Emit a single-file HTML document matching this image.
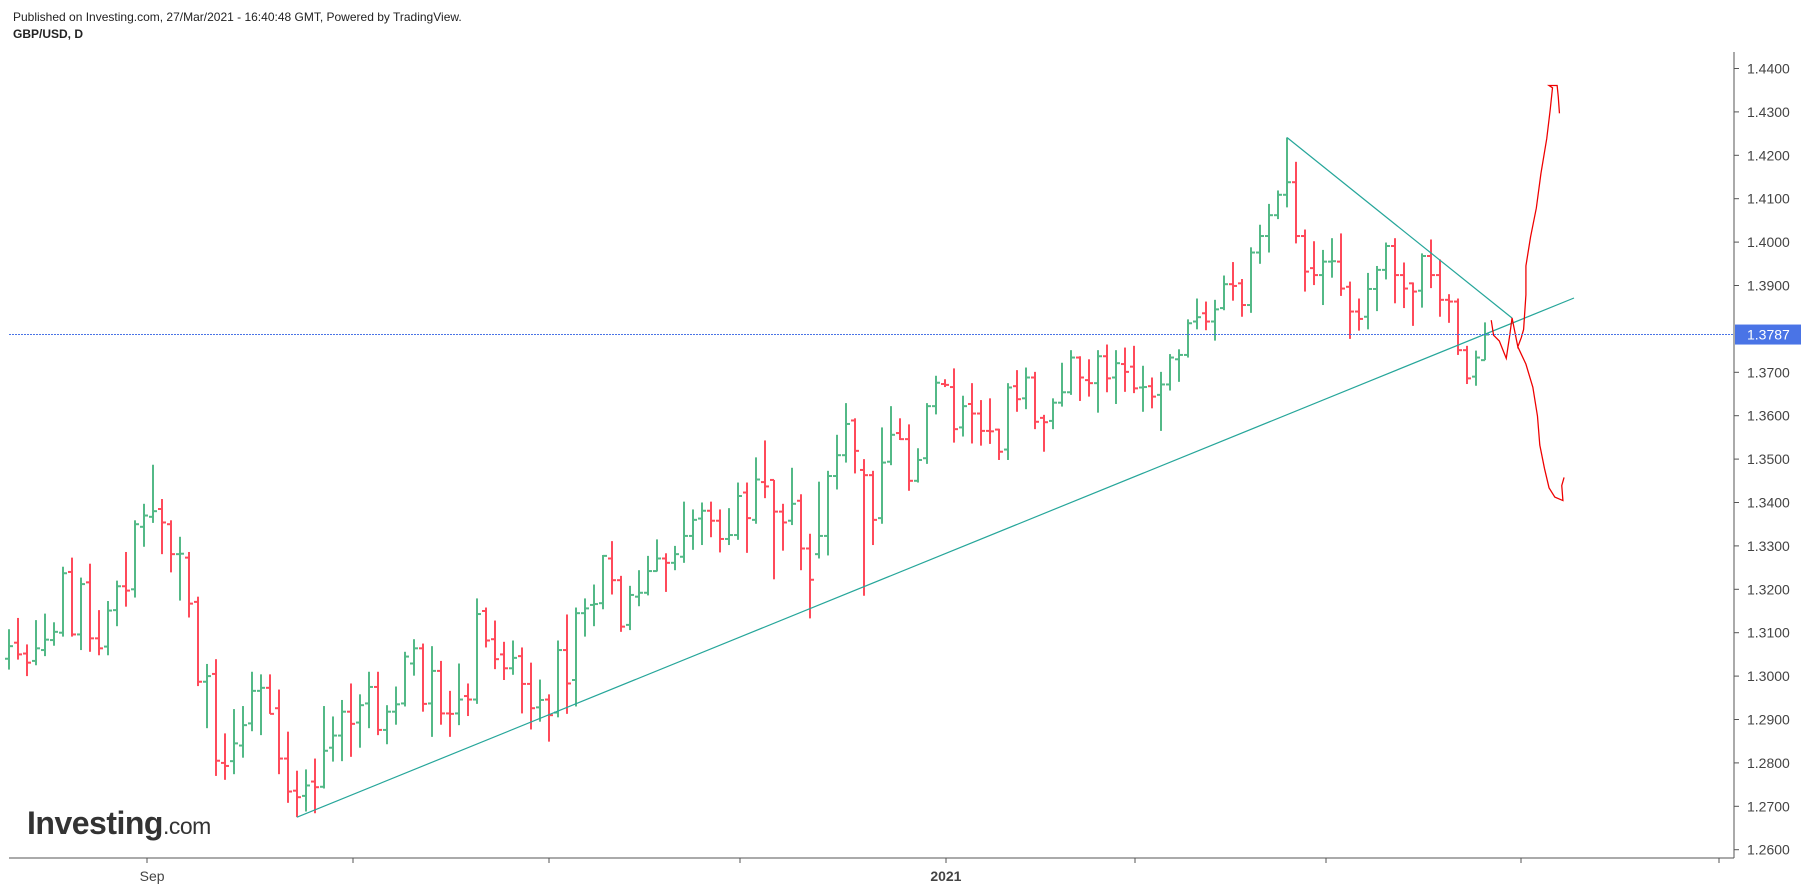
<!DOCTYPE html>
<html><head><meta charset="utf-8"><style>
html,body{margin:0;padding:0;background:#fff;width:1813px;height:892px;overflow:hidden;font-family:"Liberation Sans",Arial,sans-serif}
svg{position:absolute;left:0;top:0}
</style></head><body>
<svg id="chart" width="1813" height="892">
<text x="13" y="21" font-size="12" fill="#222">Published on Investing.com, 27/Mar/2021 - 16:40:48 GMT, Powered by TradingView.</text>
<text x="13" y="38" font-size="12" font-weight="bold" fill="#222">GBP/USD, D</text>
<g id="grid"></g>
<g id="bars"></g>
<g id="lines"></g>
<g id="axes"></g>
<text x="27" y="834" font-size="32" font-weight="bold" fill="#333" letter-spacing="-0.5">Investing<tspan font-size="23" font-weight="normal">.com</tspan></text>
</svg>
<script>
const opens=[1.3040,1.3077,1.3052,1.3035,1.3060,1.3083,1.3100,1.3240,1.3096,1.3216,1.3087,1.3068,1.3152,1.3207,1.3200,1.3344,1.3367,1.3385,1.3350,1.3281,1.3273,1.3171,1.2987,1.3005,1.2800,1.2804,1.2840,1.2891,1.2966,1.2973,1.2926,1.2810,1.2736,1.2724,1.2757,1.2745,1.2835,1.2863,1.2918,1.2893,1.2937,1.2975,1.2876,1.2918,1.2937,1.3029,1.3064,1.2937,1.3012,1.2914,1.2914,1.2954,1.2946,1.3150,1.3085,1.3050,1.3018,1.3046,1.2982,1.2928,1.2946,1.2916,1.3060,1.2991,1.3145,1.3164,1.3168,1.3271,1.3221,1.3118,1.3183,1.3192,1.3242,1.3271,1.3261,1.3275,1.3323,1.3363,1.3381,1.3358,1.3316,1.3325,1.3423,1.3360,1.3447,1.3452,1.3379,1.3358,1.3404,1.3294,1.3281,1.3323,1.3461,1.3509,1.3589,1.3475,1.3463,1.3364,1.3494,1.3560,1.3546,1.3450,1.3502,1.3622,1.3673,1.3666,1.3573,1.3627,1.3605,1.3565,1.3568,1.3522,1.3668,1.3640,1.3688,1.3595,1.3588,1.3630,1.3654,1.3734,1.3682,1.3675,1.3737,1.3688,1.3719,1.3713,1.3665,1.3668,1.3648,1.3672,1.3730,1.3740,1.3817,1.3836,1.3817,1.3848,1.3903,1.3905,1.3855,1.3976,1.4014,1.4062,1.4109,1.4138,1.4014,1.3940,1.3924,1.3955,1.3955,1.3897,1.3840,1.3828,1.3892,1.3936,1.3991,1.3924,1.3905,1.3888,1.3968,1.3924,1.3867,1.3863,1.3751,1.3690,1.3728];
const highs=[1.3108,1.3134,1.3073,1.3129,1.3144,1.3124,1.3252,1.3273,1.3227,1.3259,1.3152,1.3173,1.3220,1.3286,1.3359,1.3397,1.3487,1.3408,1.3359,1.3321,1.3286,1.3183,1.3028,1.3039,1.2868,1.2924,1.2931,1.3010,1.3004,1.3004,1.2969,1.2872,1.2782,1.2785,1.2810,1.2931,1.2907,1.2945,1.2983,1.2958,1.3010,1.3010,1.2933,1.2976,1.3056,1.3085,1.3075,1.3069,1.3035,1.2966,1.3029,1.2983,1.3179,1.3158,1.3128,1.3079,1.3082,1.3066,1.3031,1.2992,1.2958,1.3082,1.3142,1.3158,1.3179,1.3211,1.3279,1.3311,1.3231,1.3208,1.3244,1.3277,1.3315,1.3283,1.3300,1.3402,1.3384,1.3400,1.3402,1.3384,1.3387,1.3446,1.3446,1.3504,1.3543,1.3452,1.3397,1.3480,1.3419,1.3328,1.3448,1.3473,1.3556,1.3629,1.3594,1.3500,1.3473,1.3573,1.3622,1.3594,1.3580,1.3525,1.3629,1.3692,1.3684,1.3709,1.3646,1.3675,1.3636,1.3640,1.3570,1.3675,1.3705,1.3711,1.3701,1.3602,1.3640,1.3722,1.3751,1.3737,1.3730,1.3751,1.3764,1.3751,1.3757,1.3761,1.3715,1.3688,1.3701,1.3742,1.3753,1.3822,1.3870,1.3863,1.3867,1.3923,1.3954,1.3915,1.3988,1.4040,1.4088,1.4119,1.4241,1.4185,1.4029,1.4002,1.3982,1.4009,1.4020,1.3909,1.3870,1.3929,1.3945,1.3999,1.4009,1.3953,1.3907,1.3974,1.4006,1.3960,1.3880,1.3870,1.3761,1.3750,1.3815];
const lows=[1.3015,1.3038,1.3000,1.3025,1.3046,1.3070,1.3091,1.3091,1.3060,1.3056,1.3048,1.3048,1.3115,1.3160,1.3181,1.3298,1.3353,1.3281,1.3239,1.3174,1.3135,1.2977,1.2880,1.2770,1.2761,1.2774,1.2812,1.2873,1.2864,1.2913,1.2774,1.2708,1.2675,1.2688,1.2684,1.2741,1.2803,1.2804,1.2814,1.2835,1.2880,1.2864,1.2843,1.2888,1.2930,1.3001,1.2918,1.2860,1.2888,1.2860,1.2887,1.2908,1.2936,1.3066,1.3016,1.2991,1.3003,1.2914,1.2877,1.2895,1.2849,1.2905,1.2913,1.2930,1.3091,1.3115,1.3154,1.3188,1.3102,1.3106,1.3161,1.3186,1.3241,1.3194,1.3244,1.3261,1.3291,1.3302,1.3320,1.3285,1.3302,1.3314,1.3284,1.3351,1.3410,1.3223,1.3289,1.3348,1.3244,1.3133,1.3271,1.3278,1.3430,1.3492,1.3467,1.3185,1.3302,1.3351,1.3486,1.3544,1.3427,1.3446,1.3489,1.3603,1.3666,1.3538,1.3552,1.3536,1.3531,1.3535,1.3498,1.3498,1.3609,1.3615,1.3569,1.3517,1.3569,1.3621,1.3648,1.3634,1.3644,1.3607,1.3654,1.3627,1.3655,1.3652,1.3609,1.3617,1.3565,1.3658,1.3678,1.3734,1.3799,1.3797,1.3773,1.3843,1.3865,1.3828,1.3837,1.3950,1.3976,1.4053,1.4080,1.3997,1.3886,1.3901,1.3855,1.3918,1.3876,1.3777,1.3796,1.3799,1.3841,1.3914,1.3859,1.3848,1.3807,1.3849,1.3894,1.3828,1.3814,1.3740,1.3673,1.3669,1.3728];
const closes=[1.3069,1.3050,1.3031,1.3064,1.3084,1.3102,1.3237,1.3096,1.3212,1.3087,1.3064,1.3151,1.3207,1.3197,1.3350,1.3370,1.3380,1.3354,1.3281,1.3282,1.3167,1.2987,1.3000,1.2805,1.2793,1.2845,1.2887,1.2966,1.2973,1.2913,1.2810,1.2734,1.2721,1.2748,1.2744,1.2828,1.2863,1.2918,1.2890,1.2933,1.2975,1.2876,1.2918,1.2935,1.3045,1.3064,1.2936,1.3012,1.2914,1.2913,1.2946,1.2946,1.3143,1.3082,1.3039,1.3018,1.3042,1.2982,1.2926,1.2945,1.2910,1.3060,1.2983,1.3145,1.3156,1.3166,1.3277,1.3221,1.3114,1.3187,1.3192,1.3242,1.3271,1.3261,1.3281,1.3323,1.3360,1.3381,1.3358,1.3316,1.3325,1.3415,1.3364,1.3453,1.3437,1.3379,1.3354,1.3397,1.3294,1.3222,1.3323,1.3461,1.3509,1.3581,1.3519,1.3463,1.3360,1.3492,1.3556,1.3546,1.3450,1.3498,1.3622,1.3676,1.3671,1.3569,1.3622,1.3605,1.3565,1.3564,1.3517,1.3665,1.3638,1.3688,1.3586,1.3585,1.3630,1.3654,1.3734,1.3688,1.3675,1.3737,1.3686,1.3721,1.3701,1.3663,1.3666,1.3644,1.3672,1.3734,1.3740,1.3813,1.3827,1.3817,1.3845,1.3903,1.3899,1.3855,1.3976,1.4014,1.4062,1.4109,1.4138,1.4014,1.3932,1.3924,1.3955,1.3956,1.3893,1.3840,1.3823,1.3892,1.3936,1.3991,1.3924,1.3893,1.3886,1.3968,1.3924,1.3867,1.3863,1.3751,1.3686,1.3734,1.3787];
const priceTicks=[1.44,1.43,1.42,1.41,1.40,1.39,1.37,1.36,1.35,1.34,1.33,1.32,1.31,1.30,1.29,1.28,1.27,1.26];
const lastPrice=1.3787;
const dateLabels=["Sep","2021"];
const dateLabelIdx=[15.9,104.1];
const ns="http://www.w3.org/2000/svg";
const X=i=>9+9*i;
const Y=p=>68.5+(1.44-p)*4340;
function mk(tag,attrs,parent){const e=document.createElementNS(ns,tag);for(const k in attrs)e.setAttribute(k,attrs[k]);parent.appendChild(e);return e;}
const bars=document.getElementById('bars');
for(let i=0;i<opens.length;i++){
  const col=closes[i]>=opens[i]?'#53b987':'#ff4a5a';
  const g=mk('g',{stroke:col,'stroke-width':2},bars);
  
  
  const x=X(i);
  mk('line',{x1:x,x2:x,y1:Y(highs[i]),y2:Y(lows[i])},g);
  mk('line',{x1:x-4,x2:x,y1:Y(opens[i]),y2:Y(opens[i])},g);
  mk('line',{x1:x,x2:x+4,y1:Y(closes[i]),y2:Y(closes[i])},g);
}
const axes=document.getElementById('axes');
const yl=mk('line',{x1:1734,x2:1734,y1:52,y2:858,stroke:'#555','stroke-width':1},axes);

const xl=mk('line',{x1:9,x2:1734,y1:858,y2:858,stroke:'#555','stroke-width':1},axes);

priceTicks.forEach(p=>{
  mk('line',{x1:1734,x2:1739,y1:Y(p),y2:Y(p),stroke:'#555'},axes);
  const t=mk('text',{x:1747,y:Y(p)+5,'font-size':14,fill:'#444'},axes);
  t.textContent=p.toFixed(4);
  
  
});
[147,353,549,740,946,1135,1326,1521,1719].forEach(x=>mk('line',{x1:x,x2:x,y1:858,y2:863,stroke:'#555'},axes));
dateLabels.forEach((d,k)=>{
  const t=mk('text',{x:X(dateLabelIdx[k]),y:881,'font-size':14,'text-anchor':'middle',fill:'#444','font-weight':d==='2021'?'bold':'normal'},axes);
  t.textContent=d;
  
  
});
const ly=Y(lastPrice);
const pl=mk('line',{x1:9,x2:1734,y1:ly,y2:ly,stroke:'#4a74e6','stroke-width':1,'stroke-dasharray':'2,1'},axes);

const pb=mk('rect',{x:1735,y:ly-10,width:66,height:20,fill:'#4a74e6'},axes);

const pt=mk('text',{x:1747,y:ly+5,'font-size':14,fill:'#fff'},axes);
pt.textContent=lastPrice.toFixed(4);

const lines=document.getElementById('lines');
const up=mk('line',{x1:X(142),y1:Y(highs[142]),x2:1512,y2:318,stroke:'#26a69a','stroke-width':1.2},lines);

const lo=mk('line',{x1:X(32),y1:Y(lows[32]),x2:1574,y2:298,stroke:'#26a69a','stroke-width':1.2},lines);

const sg=mk('g',{transform:'scale(1.156)',fill:'none',stroke:'#e00','stroke-width':1.1},lines);

mk('path',{d:'M1290 277 L1292 290 L1297 295 L1301 305 L1303 310 L1306 290 L1308 275 L1311 290 L1313 300 L1316 292 L1318 285 L1320 255 L1320 230 L1324 205 L1329 180 L1333 150 L1338 120 L1341 95 L1343 76 L1340 74 L1347 74 L1348 84 L1349 98'},sg);
mk('path',{d:'M1313 300 L1320 315 L1326 335 L1330 360 L1332 385 L1336 405 L1340 422 L1345 430 L1352 433 L1351 420 L1353 413'},sg);
</script>
</body></html>
